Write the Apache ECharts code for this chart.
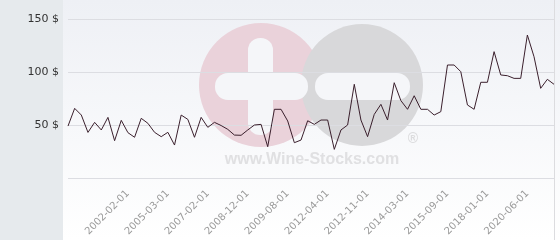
<!DOCTYPE html>
<html>
<head>
<meta charset="utf-8">
<script src="https://cdn.jsdelivr.net/npm/echarts@6/dist/echarts.min.js"></script>
<style>
html,body{margin:0;padding:0;}
#c{width:560px;height:240px;
background:linear-gradient(to right,#e6eaed 0,#e6eaed 63px,rgba(0,0,0,0) 63px),linear-gradient(to bottom,#eef0f5 0,#ffffff 100%);}
</style>
</head>
<body>
<div id="c"></div>
<script>
var categories = [
 '2000-06-01','2000-09-01','2000-12-01','2001-03-01','2001-05-01','2001-07-01','2001-09-01','2001-10-01','2001-12-01','2002-02-01',
 '2002-08-01','2003-02-01','2003-08-01','2004-02-01','2004-08-01','2005-03-01','2005-09-01','2006-02-01','2006-06-01','2006-09-01',
 '2006-12-01','2007-02-01','2007-06-01','2007-10-01','2008-02-01','2008-05-01','2008-08-01','2008-12-01','2009-01-01','2009-02-01',
 '2009-03-01','2009-05-01','2009-06-01','2009-08-01','2010-02-01','2010-08-01','2011-02-01','2011-06-01','2011-10-01','2012-04-01',
 '2012-05-01','2012-06-01','2012-07-01','2012-08-01','2012-09-01','2012-11-01','2013-01-01','2013-04-01','2013-07-01','2013-10-01',
 '2013-12-01','2014-03-01','2014-06-01','2014-09-01','2014-12-01','2015-03-01','2015-06-01','2015-09-01','2016-02-01','2016-06-01',
 '2016-10-01','2017-02-01','2017-06-01','2018-01-01','2018-06-01','2018-11-01','2019-03-01','2019-07-01','2019-11-01','2020-06-01',
 '2020-11-01','2021-04-01','2021-09-01','2022-02-01'
];
var prices = [
 49, 65.7, 59.4, 43, 52.5, 45.3, 57.2, 35.2, 54.4, 42.8,
 38.4, 56.3, 51.6, 43.1, 39, 43.1, 31.1, 59.4, 55.3, 38.4,
 57.2, 47.8, 52.5, 49.5, 45.9, 40.5, 40.3, 45.3, 50, 50.6,
 29.5, 64.8, 64.8, 53.8, 33.3, 35.8, 54, 50.6, 54.7, 54.7,
 27, 45.3, 50, 88.4, 54.7, 39, 60, 69.5, 54.7, 89.9,
 73, 64.8, 77.6, 64.8, 64.8, 59.4, 62.6, 106.6, 106.6, 100.3,
 68.9, 64.8, 90.3, 90.3, 119.2, 97.2, 96.5, 94, 94, 134.9,
 114.4, 84.6, 93.1, 88.4
];
var labeledDates = ['2002-02-01','2005-03-01','2007-02-01','2008-12-01','2009-08-01','2012-04-01','2012-11-01','2014-03-01','2015-09-01','2018-01-01','2020-06-01'];
var yTicks = [0, 50, 100, 150];
var currency = ' $';

var chart = echarts.init(document.getElementById('c'), null, {renderer:'canvas'});
chart.setOption({
  animation:false,
  backgroundColor:'transparent',
  grid:{left:68,right:6,top:19,bottom:62,containLabel:false},
  graphic:[
    {type:'line',z:-5,shape:{x1:554.5,y1:0,x2:554.5,y2:240},style:{stroke:'#dcdcdf',lineWidth:1}},
    {type:'circle',z:-10,shape:{cx:261,cy:85,r:62},style:{fill:'#ead2da'}},
    {type:'circle',z:-9,shape:{cx:362,cy:85,r:61},style:{fill:'#d8d8da'}},
    {type:'rect',z:-8,shape:{x:248,y:38,width:25,height:97,r:12},style:{fill:'#f5f6f9'}},
    {type:'rect',z:-8,shape:{x:215,y:73,width:93,height:27,r:13},style:{fill:'#f5f6f9'}},
    {type:'rect',z:-8,shape:{x:315,y:73,width:95,height:27,r:13},style:{fill:'#f5f6f9'}},
    {type:'text',z:-8,style:{x:312,y:160,text:'www.Wine-Stocks.com',fill:'#e0e0e2',font:'bold 16px "Liberation Sans", Arial, sans-serif',textAlign:'center',textVerticalAlign:'middle'}},
    {type:'text',z:-8,style:{x:413,y:139,text:'®',fill:'#dcdcde',font:'bold 14px "Liberation Sans", Arial, sans-serif',textAlign:'center',textVerticalAlign:'middle'}}
  ],
  xAxis:{
    type:'category',data:categories,boundaryGap:false,
    axisLine:{show:false},axisTick:{show:false},
    splitLine:{show:false},
    axisLabel:{
      rotate:45,margin:14,color:'#9a9a9a',fontSize:10,fontFamily:'DejaVu Sans',
      interval:function(i,v){return labeledDates.indexOf(v)>=0;}
    }
  },
  yAxis:{
    type:'value',min:yTicks[0],max:yTicks[yTicks.length-1],interval:50,
    axisLine:{show:false},axisTick:{show:false},
    splitLine:{lineStyle:{color:'#dcdde2',width:1}},
    axisLabel:{margin:9,color:'#333',fontSize:11,fontFamily:'DejaVu Sans',
      formatter:function(v){return v===0?'':v+currency;}}
  },
  series:[{
    type:'line',data:prices,symbol:'none',
    lineStyle:{color:'#3a1f2c',width:1},
    z:5
  }]
});
</script>
</body>
</html>
